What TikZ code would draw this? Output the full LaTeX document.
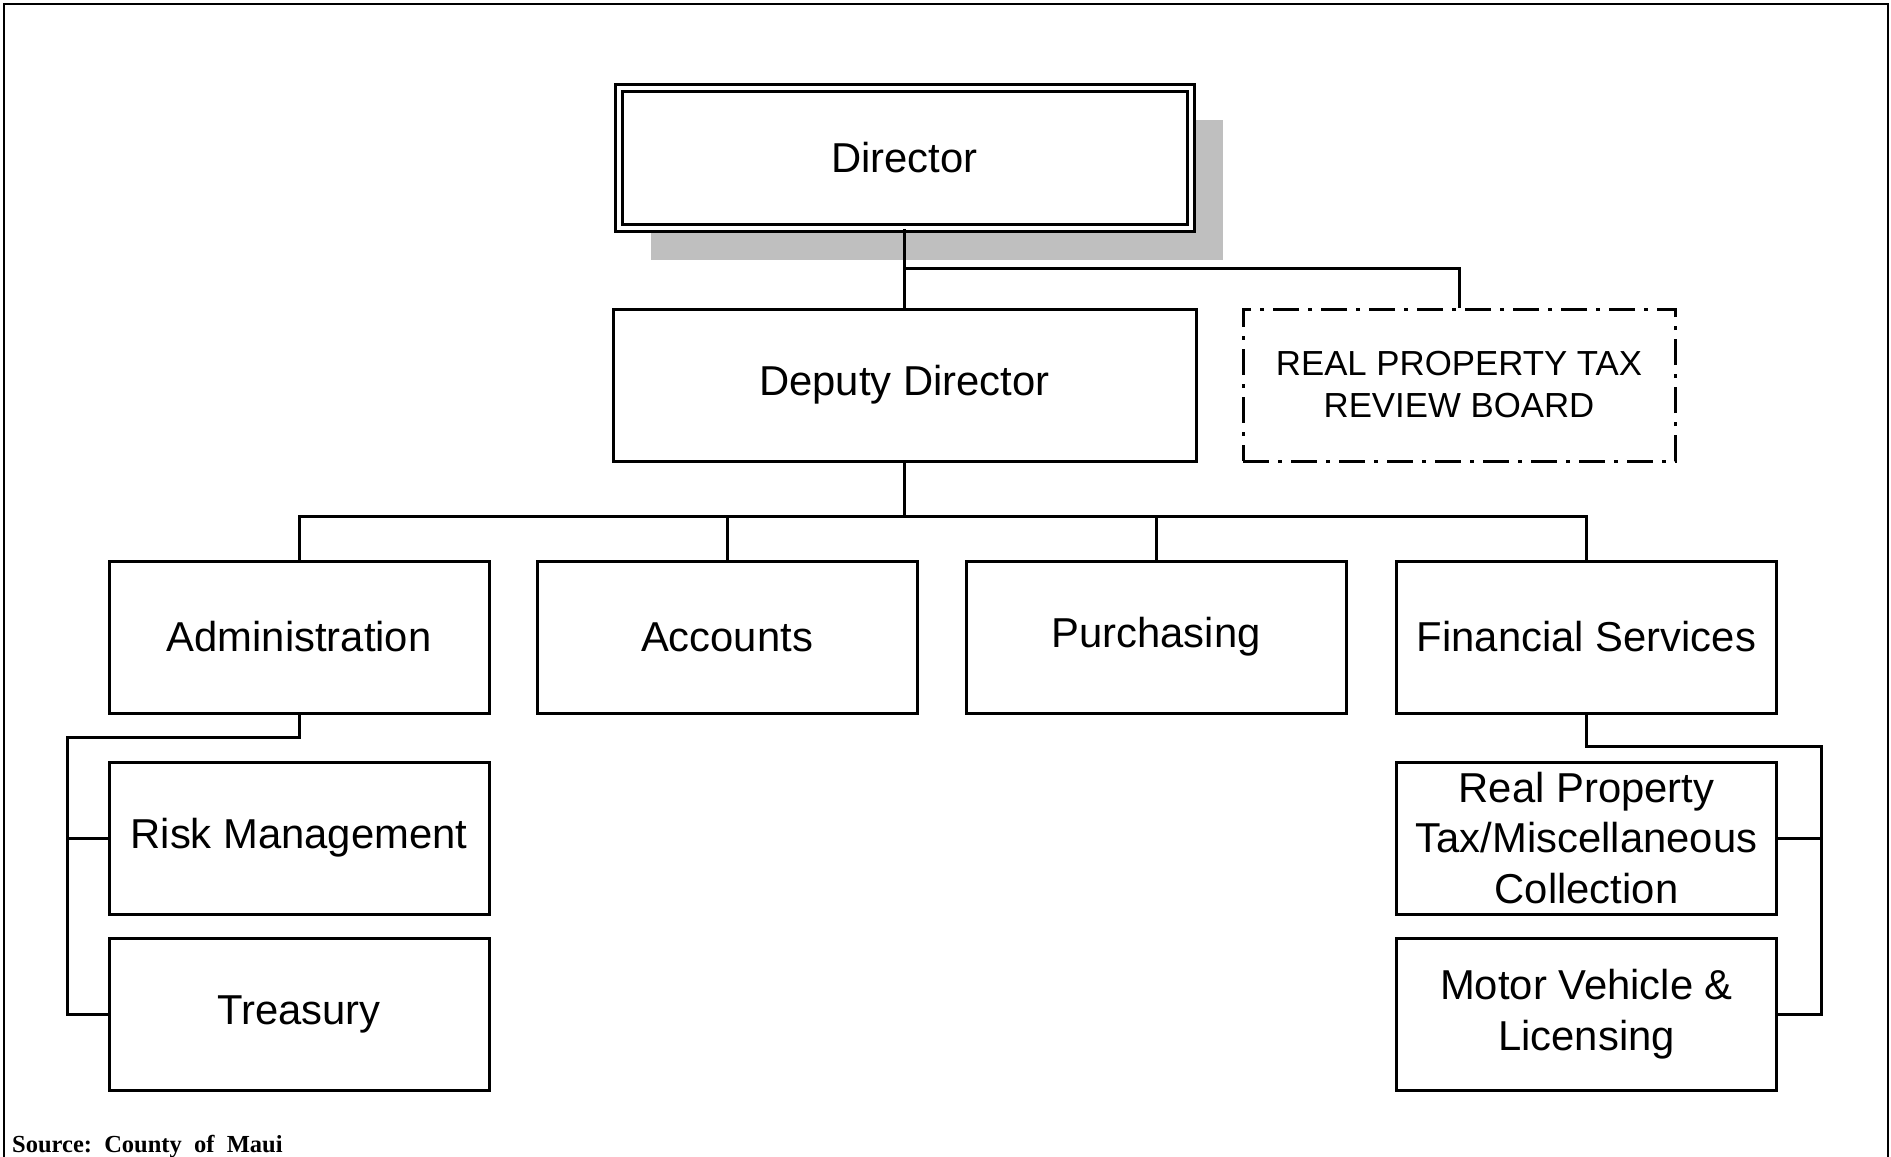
\documentclass[tikz,border=0pt]{standalone}
\usepackage{fontspec}
\setmainfont{Liberation Sans}
\newfontfamily\srcfont{Liberation Serif}
\usetikzlibrary{calc, positioning, shadows}

\tikzset{
    unitbox/.style={draw, line width=3pt, fill=white, minimum width=380pt, minimum height=152pt,
        inner sep=0pt, align=center, font=\fontsize{41.8}{50.5}\selectfont},
    topbox/.style={unitbox, minimum width=572pt, minimum height=140pt, double, double distance=4pt,
        line width=3pt, drop shadow={shadow xshift=32pt, shadow yshift=-32pt, fill=gray!50, opacity=1}},
    boardbox/.style={draw, line width=3pt, dash pattern=on 26pt off 9pt on 4pt off 9pt, minimum width=432pt,
        minimum height=152pt, inner sep=0pt, align=center, font=\fontsize{34.8}{42}\selectfont},
    link/.style={line width=3pt}
}

\begin{document}
\begin{tikzpicture}[x=1pt, y=-1pt]
    \useasboundingbox (0,0) rectangle (1891,1157);
    % Frame
    \draw[line width=2pt] (4,1157) -- (4,4) -- (1888,4) -- (1888,1157);

    % Top levels
    \node[topbox] (dir) at (904.5,157.5) {Director};
    \node[unitbox, minimum width=583pt] (dep) at (904.5,385) {Deputy Director};
    \node[boardbox] (rpt) at (1459,385) {REAL PROPERTY TAX\\REVIEW BOARD};

    % Divisions
    \node[unitbox] (adm) at (299,637) {Administration};
    \node[unitbox] (acc) at (727,637) {Accounts};
    \node[unitbox] (pur) at (1156,637) {Purchasing};
    \node[unitbox] (fin) at (1586.5,637) {Financial Services};

    % Sections
    \node[unitbox] (risk) at (299,838) {Risk Management};
    \node[unitbox] (trs) at (299,1014) {Treasury};
    \node[unitbox] (rptc) at (1586.5,838) {Real Property\\Tax/Miscellaneous\\Collection};
    \node[unitbox] (mvl) at (1586.5,1014) {Motor Vehicle \&\\Licensing};

    % Connectors
    \draw[link] (dir.south) -- (dep.north);
    \draw[link] ($(dir.south)!.5!(dep.north)$) -| (rpt.north);
    \draw[link] (dep.south) -- +(0,54) coordinate (bus);
    \foreach \n in {adm, acc, pur, fin}
        \draw[link] (bus) -| (\n.north);

    \draw[link] (adm.south) -- ++(0,23) -| ($(trs.west)+(-40,0)$) -- (trs.west);
    \draw[link] (risk.west) -- ++(-40,0);
    \draw[link] (fin.south) -- ++(0,32) -| ($(mvl.east)+(43,0)$) -- (mvl.east);
    \draw[link] (rptc.east) -- ++(43,0);

    % Source
    \node[anchor=base west, font=\srcfont\bfseries\fontsize{24.5}{28}\selectfont, inner sep=0pt] (src) at (12,1152)
        {Source:\ \ County\ \ of\ \ Maui};
\end{tikzpicture}
\end{document}
